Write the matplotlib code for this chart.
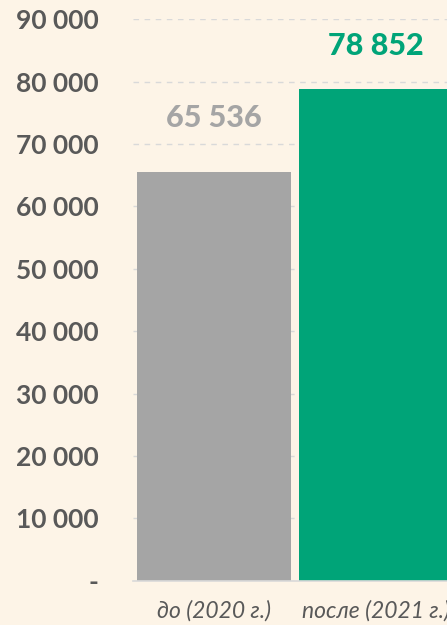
import matplotlib
matplotlib.use("Agg")
import matplotlib.pyplot as plt
from matplotlib.ticker import FixedLocator, FuncFormatter

categories = ["до (2020 г.)", "после (2021 г.)"]
values = [65536, 78852]
bar_colors = ["#A5A5A5", "#00A478"]
yticks = [0, 10000, 20000, 30000, 40000, 50000, 60000, 70000, 80000, 90000]

bg = "#FDF4E7"
fig = plt.figure(figsize=(4.47, 6.25), dpi=100, facecolor=bg)
ax = fig.add_axes([133/447, 1-580.7/625, 1-133/447, (580.7-19.3)/625])
ax.set_facecolor(bg)

x = list(range(len(categories)))
ax.bar(x, values, width=154/162, color=bar_colors, zorder=3)
ax.set_xlim(-0.5, -0.5 + (447-133)/162)
ax.set_ylim(0, 90000)

ax.yaxis.set_major_locator(FixedLocator(yticks))
def fmt(v, pos):
    if v == 0:
        return "-"
    return f"{int(v):,}".replace(",", " ")
ax.yaxis.set_major_formatter(FuncFormatter(fmt))
ax.grid(axis="y", color="#D9D9D9", linestyle=(0, (4, 4)), linewidth=1, zorder=0)
for s in ["top", "right", "left"]:
    ax.spines[s].set_visible(False)
ax.spines["bottom"].set_color("#D9D9D9")
ax.spines["bottom"].set_linewidth(1.2)
ax.spines["bottom"].set_zorder(4)
ax.tick_params(axis="both", length=0)
ax.tick_params(axis="y", pad=25)
for lab in ax.get_yticklabels():
    lab.set_fontfamily("Lato")
    lab.set_fontweight("bold")
    lab.set_fontsize(19)
    lab.set_color("#595959")

ax.set_xticks(x)
ax.set_xticklabels(categories, fontfamily="Lato", fontstyle="italic",
                   fontsize=16.5, color="#595959")
ax.tick_params(axis="x", pad=14)

offsets_px = [45, 34]
for xi, v, c, off in zip(x, values, bar_colors, offsets_px):
    ax.annotate(f"{v:,}".replace(",", " "), (xi, v), xytext=(0, off * 0.72),
                textcoords="offset points", ha="center", va="baseline",
                fontfamily="Lato", fontweight=900, fontsize=22, color=c,
                zorder=5)

fig.savefig("out.png", dpi=100, facecolor=bg)
